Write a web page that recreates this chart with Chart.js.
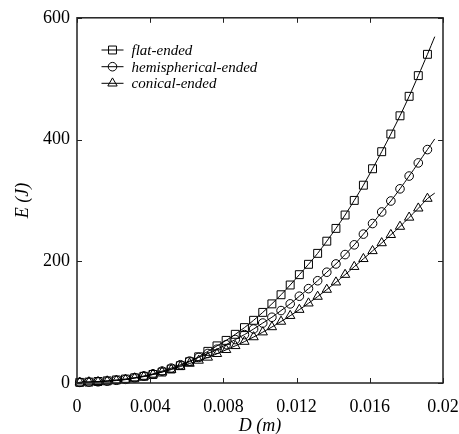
<!DOCTYPE html>
<html>
<head>
<meta charset="utf-8">
<script src="https://cdn.jsdelivr.net/npm/chart.js@4.4.1/dist/chart.umd.min.js"></script>
<style>
    html, body { margin: 0; padding: 0; background: #fff; }
    #chart { display: block; }
</style>
</head>
<body>
<canvas id="chart" width="459" height="434"></canvas>
<script>
// Diameter values (m) where markers are drawn
const diameters = [
    0.00015, 0.00065, 0.00115, 0.00165, 0.00215, 0.00265, 0.00315, 0.00365,
    0.00415, 0.00465, 0.00515, 0.00565, 0.00615, 0.00665, 0.00715, 0.00765,
    0.00815, 0.00865, 0.00915, 0.00965, 0.01015, 0.01065, 0.01115, 0.01165,
    0.01215, 0.01265, 0.01315, 0.01365, 0.01415, 0.01465, 0.01515, 0.01565,
    0.01615, 0.01665, 0.01715, 0.01765, 0.01815, 0.01865, 0.01915
];

// Energy values (J) for each projectile shape
const flatEnded = [
    1, 1.5, 2.5, 3.5, 5, 6.5, 8.5, 11, 14, 18, 23, 28.5, 35, 43, 52, 61,
    70, 80, 91, 103, 116, 130, 145, 161, 178, 195, 213, 233, 254, 276, 300,
    325, 352, 380, 409, 439, 471, 505, 540
];
const hemisphericalEnded = [
    1, 1.5, 2, 3, 4.5, 6, 8.5, 11.5, 15, 19.5, 24.5, 30, 36, 42, 48.5, 55.5,
    63, 71.4, 79.5, 88.7, 98.5, 108, 119, 130, 142.6, 155, 168, 182, 195.6,
    211, 227, 244.6, 262, 281, 299, 319, 340, 361.6, 383.5
];
const conicalEnded = [
    1, 1.5, 2, 3, 4, 5.5, 8, 10.5, 14, 18, 22, 27, 32, 37, 42, 48, 54.5,
    61, 68, 75.5, 83.5, 92, 101, 110.5, 120.5, 131, 142, 153.5, 165.5, 178,
    191, 204, 217, 230, 243.5, 257, 272, 287, 303
];

// Where the fitted curves start and stop
const curveStart = { D: 0, E: 0 };
const curveEnd = { D: 0.01955, flat: 569, hemi: 401, conical: 312 };

const xTicks = [0, 0.004, 0.008, 0.012, 0.016, 0.02];
const xTickLabels = ['0', '0.004', '0.008', '0.012', '0.016', '0.02'];
const yTicks = [0, 200, 400, 600];

const seriesNames = ['flat-ended', 'hemispherical-ended', 'conical-ended'];
const seriesStyles = ['rect', 'circle', 'triangle'];
const seriesRadius = [5.6, 4.3, 5.4];

const SERIF = "'Liberation Serif', 'Times New Roman', serif";

function buildPoints(values, endValue) {
    const pts = [{ x: curveStart.D, y: curveStart.E }];
    diameters.forEach((d, i) => pts.push({ x: d, y: values[i] }));
    pts.push({ x: curveEnd.D, y: endValue });
    return pts;
}

function makeDataset(idx, values, endValue) {
    const pts = buildPoints(values, endValue);
    const last = pts.length - 1;
    return {
        label: seriesNames[idx],
        data: pts,
        borderColor: '#000',
        borderWidth: 1,
        backgroundColor: 'rgba(0,0,0,0)',
        tension: 0.3,
        clip: false,
        pointStyle: seriesStyles[idx],
        pointRadius: ctx => (ctx.dataIndex === 0 || ctx.dataIndex === last) ? 0 : seriesRadius[idx],
        pointBorderColor: '#000',
        pointBorderWidth: 1,
        pointBackgroundColor: 'rgba(0,0,0,0)'
    };
}

// Frame, inward ticks and legend inside the plot area
const framePlugin = {
    id: 'frame',
    afterDraw(chart) {
        const { ctx, chartArea: a, scales } = chart;
        ctx.save();
        ctx.strokeStyle = '#222';
        ctx.lineWidth = 1.5;
        ctx.strokeRect(a.left, a.top, a.right - a.left, a.bottom - a.top);

        ctx.lineWidth = 1;
        const tl = 5;
        ctx.beginPath();
        xTicks.forEach(v => {
            const px = Math.round(scales.x.getPixelForValue(v)) + 0.5;
            ctx.moveTo(px, a.bottom); ctx.lineTo(px, a.bottom - tl);
            ctx.moveTo(px, a.top); ctx.lineTo(px, a.top + tl);
        });
        yTicks.forEach(v => {
            const py = Math.round(scales.y.getPixelForValue(v)) + 0.5;
            ctx.moveTo(a.left, py); ctx.lineTo(a.left + tl, py);
            ctx.moveTo(a.right, py); ctx.lineTo(a.right - tl, py);
        });
        ctx.stroke();

        // legend
        const rowY = [50, 66.7, 83.3];
        const x0 = 101.5, x1 = 123.5, xm = 112.5;
        ctx.font = 'italic 15px ' + SERIF;
        ctx.textBaseline = 'middle';
        ctx.textAlign = 'left';
        ctx.fillStyle = '#000';
        seriesNames.forEach((name, i) => {
            const y = rowY[i];
            ctx.strokeStyle = '#000';
            ctx.lineWidth = 1;
            ctx.beginPath();
            ctx.moveTo(x0, y); ctx.lineTo(x1, y);
            ctx.stroke();
            Chart.helpers.drawPoint(ctx, {
                pointStyle: seriesStyles[i],
                radius: seriesRadius[i],
                borderWidth: 1,
                rotation: 0
            }, xm, y);
            ctx.fillText(name, 131.5, y + 1);
        });
        ctx.restore();
    }
};

// Draws hollow markers: fill transparent then stroke
Chart.helpers.drawPoint = (function (orig) {
    return function (ctx, options, x, y) {
        ctx.save();
        ctx.fillStyle = 'rgba(0,0,0,0)';
        ctx.strokeStyle = '#000';
        ctx.lineWidth = options.borderWidth || 1;
        orig.call(this, ctx, options, x, y);
        ctx.restore();
    };
})(Chart.helpers.drawPoint);

const chart = new Chart(document.getElementById('chart'), {
    type: 'line',
    data: {
        datasets: [
            makeDataset(0, flatEnded, curveEnd.flat),
            makeDataset(1, hemisphericalEnded, curveEnd.hemi),
            makeDataset(2, conicalEnded, curveEnd.conical)
        ]
    },
    options: {
        responsive: false,
        animation: false,
        events: [],
        layout: { padding: { left: 0, right: 16, top: 16, bottom: 0 } },
        plugins: {
            legend: { display: false },
            tooltip: { enabled: false }
        },
        scales: {
            x: {
                type: 'linear',
                min: 0,
                max: 0.02,
                afterBuildTicks: scale => { scale.ticks = xTicks.map(v => ({ value: v })); },
                afterFit: scale => {
                    scale.height = 51;
                    scale.paddingRight = 0;
                    scale.paddingLeft = 0;
                },
                grid: { display: false, drawTicks: false },
                border: { display: false },
                ticks: {
                    color: '#000',
                    padding: 13,
                    maxRotation: 0,
                    autoSkip: false,
                    font: { family: SERIF, size: 18 },
                    callback: v => xTickLabels[xTicks.indexOf(v)] ?? ''
                },
                title: {
                    display: true,
                    text: 'D (m)',
                    color: '#000',
                    padding: { top: 0, bottom: -3 },
                    font: { family: SERIF, size: 18, style: 'italic' }
                }
            },
            y: {
                min: 0,
                max: 600,
                afterBuildTicks: scale => { scale.ticks = yTicks.map(v => ({ value: v })); },
                afterFit: scale => { scale.width = 77; },
                grid: { display: false, drawTicks: false },
                border: { display: false },
                ticks: {
                    color: '#000',
                    padding: 7,
                    font: { family: SERIF, size: 18 }
                },
                title: {
                    display: true,
                    text: 'E (J)',
                    color: '#000',
                    padding: { top: 12, bottom: 0 },
                    font: { family: SERIF, size: 18, style: 'italic' }
                }
            }
        }
    },
    plugins: [framePlugin]
});
</script>
</body>
</html>
